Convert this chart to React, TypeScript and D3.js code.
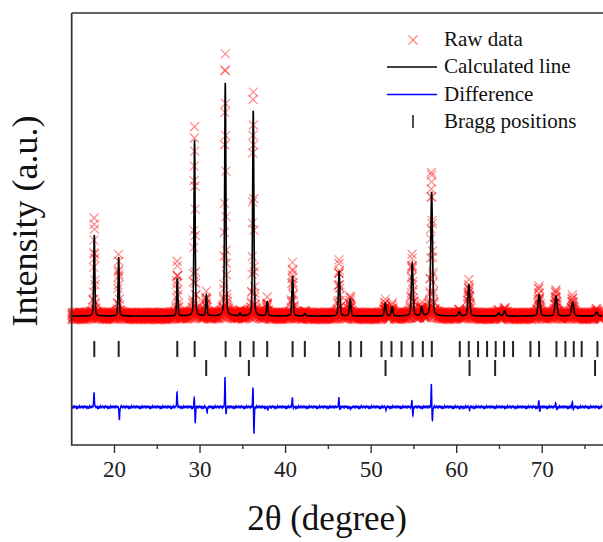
import React from "react";
import * as d3 from "d3";

// ---- data ----
const peakPos = [17.64, 20.49, 27.34, 29.36, 30.74, 32.95, 34.68, 36.22, 37.85, 40.82, 42.25, 46.26, 47.55, 51.65, 52.45, 54.8, 55.9, 57.07, 60.3, 61.42, 64.9, 65.6, 69.63, 71.6, 73.55, 76.35];
const peakHeight = [810, 590, 380, 1760, 210, 2330, 30, 2050, 140, 400, 25, 450, 170, 130, 90, 530, 90, 1240, 40, 310, 30, 50, 210, 200, 140, 40];
const peakWidth = [0.15, 0.15, 0.16, 0.16, 0.17, 0.17, 0.18, 0.17, 0.18, 0.19, 0.2, 0.2, 0.21, 0.22, 0.22, 0.23, 0.23, 0.24, 0.25, 0.25, 0.27, 0.27, 0.28, 0.29, 0.3, 0.3];

const diffPos = [17.64, 20.49, 27.34, 29.36, 30.74, 32.95, 36.22, 37.85, 40.82, 46.26, 47.55, 51.65, 54.8, 57.07, 60.3, 61.42, 69.63, 71.6, 73.55];
const diffUp = [150, 0, 150, 100, 0, 300, 210, 0, 100, 95, 0, 0, 70, 230, 0, 0, 66, 48, 46];
const diffDown = [0, -130, 0, -160, -60, -80, -280, -30, -20, -30, -20, -30, -90, -150, -20, -30, -47, -30, -30];

const braggPhase1 = [17.64, 20.49, 27.34, 29.37, 32.99, 34.7, 36.26, 37.85, 40.82, 42.25, 46.26, 47.59, 48.83, 51.21, 52.38, 53.55, 54.84, 56.04, 57.09, 60.36, 61.41, 62.5, 63.55, 64.56, 65.54, 66.59, 68.62, 69.63, 71.66, 72.71, 73.68, 74.61, 76.45];
const braggPhase2 = [30.72, 35.71, 51.68, 61.5, 64.49, 76.17];

const majorTicks = [20, 30, 40, 50, 60, 70];
const minorTicks = [25, 35, 45, 55, 65, 75];

const background = 190;
const diffOffset = -720;
const noise = [0.42, -0.71, 0.15, 0.88, -0.33, -0.92, 0.57, 0.04, -0.48, 0.76, -0.12, 0.31, -0.85, 0.66, -0.27, 0.93, -0.58, 0.2, -0.05, 0.71, -0.64, 0.38, -0.97, 0.11, 0.52, -0.41, 0.83, -0.19, 0.27, -0.76, 0.6, -0.02, -0.52, 0.95, -0.36, 0.18, -0.88, 0.47, 0.07, -0.61, 0.74, -0.23, 0.35, -0.79, 0.99, -0.44, 0.13, 0.63, -0.15, -0.69, 0.29, 0.86, -0.54, 0.02, -0.31, 0.79, -0.9, 0.45, -0.08, 0.55, -0.66];

const legendItems = ["Raw data", "Calculated line", "Difference", "Bragg positions"];

// ---- layout ----
const W = 603, H = 542;
const x = d3.scaleLinear().domain([15, 77.1]).range([71.7, 603]);
const y = d3.scaleLinear().domain([-1100, 3220]).range([445, 13]);
const FONT = "'Liberation Serif', 'Times New Roman', serif";

function calcAt(t: number) {
  let v = background;
  for (let i = 0; i < peakPos.length; i++) {
    const d = (t - peakPos[i]) / peakWidth[i];
    const L = 1 / (1 + 4 * d * d);
    const G = Math.exp(-4 * Math.LN2 * d * d);
    v += peakHeight[i] * (0.35 * L + 0.65 * G);
  }
  return v;
}
function diffAt(t: number) {
  let v = 0;
  for (let i = 0; i < diffPos.length; i++) {
    const w = 0.1;
    const a = (t - (diffPos[i] - 0.03)) / w;
    const b = (t - (diffPos[i] + 0.08)) / w;
    v += diffUp[i] * Math.exp(-4 * Math.LN2 * a * a) + diffDown[i] * Math.exp(-4 * Math.LN2 * b * b);
  }
  return v;
}

const stepObs = 0.02;
const obsX: number[] = d3.range(15, 77.0 + 1e-9, stepObs);
const calcX: number[] = d3.range(15, 77.0 + 1e-9, 0.01);

export default function App() {
  const calcPts = calcX.map((t) => [t, calcAt(t)] as [number, number]);
  const obsPts = obsX.map((t, i) => {
    const c = calcAt(t);
    const n = noise[i % noise.length] * 40 * Math.sqrt(Math.max(c, background) / background);
    return [t, c + diffAt(t) + n] as [number, number];
  });
  const diffPts = obsX.map((t, i) => [t, diffOffset + diffAt(t) + noise[(i * 7) % noise.length] * 9] as [number, number]);

  const line = d3.line<[number, number]>().x((d) => x(d[0])).y((d) => y(d[1]));
  const m = 4.5;
  const cross = (cx: number, cy: number) => `M${cx - m},${cy - m}L${cx + m},${cy + m}M${cx - m},${cy + m}L${cx + m},${cy - m}`;

  const row1 = [-60, -220];
  const row2 = [-250, -410];

  return (
    <svg width={W} height={H} style={{ position: "absolute", left: 0, top: 0, background: "#fff" }} fontFamily={FONT}>
      {/* raw data */}
      <g stroke="#ff0000" strokeOpacity={0.45} strokeWidth={1.2} fill="none">
        {obsPts.map((p, i) => (
          <path key={i} d={cross(x(p[0]), y(p[1]))} />
        ))}
      </g>
      {/* calculated */}
      <path d={line(calcPts) || ""} fill="none" stroke="#000" strokeWidth={1.6} />
      {/* Bragg positions */}
      <g stroke="#222" strokeWidth={2}>
        {braggPhase1.map((b, i) => (
          <line key={"a" + i} x1={x(b)} x2={x(b)} y1={y(row1[0])} y2={y(row1[1])} />
        ))}
        {braggPhase2.map((b, i) => (
          <line key={"b" + i} x1={x(b)} x2={x(b)} y1={y(row2[0])} y2={y(row2[1])} />
        ))}
      </g>
      {/* difference */}
      <path d={line(diffPts) || ""} fill="none" stroke="#0000ff" strokeWidth={1.4} />
      {/* frame */}
      <path d={`M${x(15)},${y(3220)}H${W + 5}M${x(15)},${y(3220)}V${y(-1100)}H${W + 5}`} fill="none" stroke="#333" strokeWidth={1.7} />
      {/* ticks */}
      <g stroke="#333" strokeWidth={1.4}>
        {majorTicks.map((t) => (
          <line key={"M" + t} x1={x(t)} x2={x(t)} y1={y(-1100)} y2={y(-1100) + 8} />
        ))}
        {minorTicks.map((t) => (
          <line key={"m" + t} x1={x(t)} x2={x(t)} y1={y(-1100)} y2={y(-1100) + 4} />
        ))}
      </g>
      <g fontSize={23} textAnchor="middle" fill="#222">
        {majorTicks.map((t) => (
          <text key={"l" + t} x={x(t)} y={477}>{t}</text>
        ))}
      </g>
      <text x={327} y={530} fontSize={35} textAnchor="middle" fill="#111">2θ (degree)</text>
      <text transform="translate(37,221) rotate(-90)" fontSize={36} textAnchor="middle" fill="#111">Intensity (a.u.)</text>
      {/* legend */}
      <g>
        <path d={cross(413, 40)} stroke="#ff0000" strokeOpacity={0.5} strokeWidth={1.2} fill="none" />
        <line x1={387} x2={437} y1={67} y2={67} stroke="#000" strokeWidth={1.6} />
        <line x1={387} x2={437} y1={94.5} y2={94.5} stroke="#0000ff" strokeWidth={1.4} />
        <line x1={413} x2={413} y1={115} y2={128} stroke="#222" strokeWidth={1.6} />
        {legendItems.map((s, i) => (
          <text key={s} x={444} y={46 + i * 27.4} fontSize={21} fill="#111">{s}</text>
        ))}
      </g>
    </svg>
  );
}
